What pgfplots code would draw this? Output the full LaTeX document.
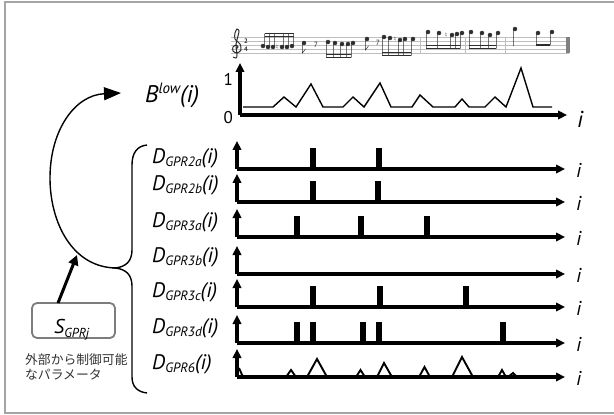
\documentclass[border=0pt]{standalone}
\usepackage{fontspec}
\setmainfont{PT Sans}
\newfontfamily\jpfont{Noto Sans CJK JP}
\newfontfamily\symfont{DejaVu Sans}
\usepackage{pgfplots}
\pgfplotsset{compat=1.18}
\usetikzlibrary{arrows.meta}

\definecolor{framegray}{RGB}{165,165,165}
\definecolor{boxgray}{RGB}{125,125,125}
\definecolor{staffgray}{RGB}{190,190,190}
\definecolor{notegray}{RGB}{45,45,45}

% one signal panel: x in picture pixels, y in pixels above the base line
\pgfplotsset{
  panel/.style={
    scale only axis, anchor=south west,
    width=328pt, height=28pt,
    xmin=237, xmax=565, ymin=0, ymax=28,
    axis lines*=left,
    axis line style={line width=3.1pt, black, -{Triangle[length=9pt,width=8.5pt]}},
    xtick=\empty, ytick=\empty,
    clip=false,
    xlabel={\fontsize{20}{20}\selectfont\itshape i},
    xlabel style={at={(axis description cs:1,0)}, anchor=base west,
      inner sep=0pt, xshift=11pt, yshift=-8pt},
  },
  pulses/.style={ycomb, black, line width=6.5pt},
}
\newcommand{\dlab}[1]{\fontsize{21}{21}\selectfont\itshape D\raisebox{-3pt}{\fontsize{13.5}{13.5}\selectfont #1}(i)}

\begin{document}
\begin{tikzpicture}[x=1pt,y=-1pt]
\path[use as bounding box] (0,0) rectangle (614,415);
\draw[framegray, line width=1.5pt] (614,2) -- (5,2) -- (5,413) -- (614,413);

% ---------- score (drawn in a hidden pixel axis) ----------
\begin{axis}[at={(0pt,0pt)}, anchor=north west, scale only axis,
  width=614pt, height=415pt, xmin=0, xmax=614, ymin=0, ymax=415,
  y dir=reverse, axis lines=none, clip=false, unbounded coords=jump]
\addplot[staffgray, line width=0.6pt] coordinates {
  (231,37)(569,37) (0,nan) (231,41)(569,41) (0,nan) (231,45)(569,45)
  (0,nan) (231,49)(569,49) (0,nan) (231,53)(569,53)};
\addplot[staffgray, line width=0.6pt] coordinates {
  (420,37)(420,53) (0,nan) (465,37)(465,53) (0,nan) (505,37)(505,53)};
\addplot[gray, line width=3.5pt] coordinates {(568,37)(568,53)};
% clef
\addplot[notegray, line width=1pt, smooth] coordinates {
  (236,49)(238,47)(236,45)(233,47)(233,51)(237,53)(241,50)(240,44)(235,39)
  (235,33)(237,29)(239,31)(238,36)(236,45)(237,55)(236,58)(233,57)};
% note heads
\addplot[only marks, mark=*, mark size=2pt, notegray] coordinates {
  (263,46)(268,47)(273,47)(282,47)(287,47)(292,46)
  (304,43)
  (328,42)(335,43)(342,44)(348,44)(353,43)
  (367,39)
  (384,37)(390,38)(400,40)(405,39)(413,39)
  (428,32)(439,33)(452,35)(457,34)(462,33)
  (471,32)(482,33)(490,35)(498,33)
  (515,29)
  (538,33)(552,32)};
% stems and flags
\addplot[notegray, line width=0.5pt] coordinates {
  (264.6,46)(264.6,33.5) (0,nan) (269.6,47)(269.6,33.5) (0,nan) (274.6,47)(274.6,33.5)
  (0,nan) (283.6,47)(283.6,33.5) (0,nan) (288.6,47)(288.6,33.5) (0,nan) (293.6,46)(293.6,33.5)
  (0,nan) (302.4,43)(302.4,53)(305.5,49)
  (0,nan) (326.4,42)(326.4,57.5) (0,nan) (333.4,43)(333.4,57.5) (0,nan) (340.4,44)(340.4,57.5)
  (0,nan) (346.4,44)(346.4,57.5) (0,nan) (351.4,43)(351.4,57.5)
  (0,nan) (365.4,39)(365.4,50)(368.5,46)
  (0,nan) (382.4,37)(382.4,55.5) (0,nan) (388.4,38)(388.4,55.5) (0,nan) (398.4,40)(398.4,55.5)
  (0,nan) (403.4,39)(403.4,55.5) (0,nan) (411.4,39)(411.4,55.5)
  (0,nan) (426.4,32)(426.4,48.5) (0,nan) (437.4,33)(437.4,48.5) (0,nan) (450.4,35)(450.4,48.5)
  (0,nan) (455.4,34)(455.4,48.5) (0,nan) (460.4,33)(460.4,48.5)
  (0,nan) (469.4,32)(469.4,48.5) (0,nan) (480.4,33)(480.4,48.5) (0,nan) (488.4,35)(488.4,48.5)
  (0,nan) (496.4,33)(496.4,48.5)
  (0,nan) (513.4,29)(513.4,46)
  (0,nan) (536.4,33)(536.4,45) (0,nan) (550.4,32)(550.4,45)};
% beams
\addplot[notegray, line width=1.8pt] coordinates {
  (264.6,33.5)(293.6,33.5) (0,nan) (264.6,36.5)(293.6,36.5)
  (0,nan) (326.4,57.5)(351.4,57.5) (0,nan) (326.4,54.5)(351.4,54.5)
  (0,nan) (382.4,55.5)(411.4,55.5) (0,nan) (382.4,52.5)(411.4,52.5)
  (0,nan) (426.4,48.5)(460.4,48.5) (0,nan) (426.4,45.5)(460.4,45.5)
  (0,nan) (469.4,48.5)(496.4,48.5) (0,nan) (469.4,45.5)(496.4,45.5)
  (0,nan) (536.4,45)(550.4,45)};
\node[notegray, font=\bfseries\fontsize{6.5}{6.5}\selectfont, inner sep=0] at (246,41) {2};
\node[notegray, font=\bfseries\fontsize{6.5}{6.5}\selectfont, inner sep=0] at (246,49) {4};
\node[notegray, font=\fontsize{7.5}{7.5}\selectfont, inner sep=0] at (316,45) {7};
\node[notegray, font=\fontsize{7.5}{7.5}\selectfont, inner sep=0] at (378,43) {7};
\node[notegray, font=\symfont\fontsize{6.5}{6.5}\selectfont, inner sep=0] at (277,47) {♮};
\node[notegray, font=\symfont\fontsize{6.5}{6.5}\selectfont, inner sep=0] at (395,39) {♮};
\node[notegray, font=\symfont\fontsize{6.5}{6.5}\selectfont, inner sep=0] at (446,35) {♮};
\end{axis}

% ---------- B^low(i) ----------
\begin{axis}[scale only axis, anchor=south west, at={(240pt,-115pt)},
  width=327pt, height=52pt, xmin=240, xmax=567, ymin=0, ymax=52,
  axis lines*=left,
  axis line style={line width=3.1pt, black, -{Triangle[length=9pt,width=8.5pt]}},
  xtick=\empty, ytick={0,39}, yticklabels={\textup{0},\textup{1}},
  tick style={draw=none},
  yticklabel style={anchor=east, inner sep=0pt, xshift=-7pt, yshift=-3pt,
    font=\fontsize{17}{17}\selectfont},
  clip=false,
  xlabel={\fontsize{23}{23}\selectfont\itshape i},
  xlabel style={at={(axis description cs:1,0)}, anchor=base west,
    inner sep=0pt, xshift=10pt, yshift=-12pt}]
\addplot[black, line width=1.4pt] coordinates {
  (243,8)(273,8)(284,18)(296,8)(311,31)(323,8)(343,8)(353,18)(364,8)(380,32)
  (391,8)(412,8)(420,20)(433,8)(455,8)(462,16)(469,8)(485,8)(495,18)(506,8)
  (521,47)(533,8)(552,8)};
\end{axis}

% ---------- D_GPR panels ----------
\begin{axis}[panel, at={(237pt,-169pt)}]
\addplot[pulses] coordinates {(313,21)(379,21)};
\end{axis}
\begin{axis}[panel, at={(237pt,-202pt)}]
\addplot[pulses] coordinates {(313,21)(378,21)};
\end{axis}
\begin{axis}[panel, at={(237pt,-237pt)}]
\addplot[pulses] coordinates {(297,21)(361,21)(427,21)};
\end{axis}
\begin{axis}[panel, at={(237pt,-274pt)}]
\end{axis}
\begin{axis}[panel, at={(237pt,-307pt)}]
\addplot[pulses] coordinates {(313,21)(380,21)(466,21)};
\end{axis}
\begin{axis}[panel, at={(237pt,-343pt)}]
\addplot[pulses] coordinates {(297,21)(313,21)(363,21)(379,21)(503,21)};
\end{axis}
\begin{axis}[panel, at={(237pt,-377pt)}]
\addplot[black, line width=1.9pt] coordinates {
  (239,9)(243,0)(286,0)(291,7)(296,0)(307,0)(317,18)(327,0)(356,0)(360.5,7)
  (365,0)(377,0)(384,14)(392,0)(419,0)(424.5,10)(430,0)(452,0)(462,20)(473,0)
  (498,0)(502,7)(506,0)(508,0)(513,4)(517,0)};
\end{axis}

% ---------- labels ----------
\node[anchor=base west, inner sep=0] at (145,102)
  {\fontsize{24}{24}\selectfont\itshape B\raisebox{9pt}{\fontsize{15}{15}\selectfont low}(i)};
\node[anchor=base west, inner sep=0] at (152,163) {\dlab{GPR2a}};
\node[anchor=base west, inner sep=0] at (152,190) {\dlab{GPR2b}};
\node[anchor=base west, inner sep=0] at (152,227) {\dlab{GPR3a}};
\node[anchor=base west, inner sep=0] at (152,262) {\dlab{GPR3b}};
\node[anchor=base west, inner sep=0] at (152,297) {\dlab{GPR3c}};
\node[anchor=base west, inner sep=0] at (152,333) {\dlab{GPR3d}};
\node[anchor=base west, inner sep=0] at (152,369) {\dlab{GPR6}};

% brace and feedback arrow
\draw[line width=1.4pt] (147,145) .. controls (137,146) and (132,153) .. (132,165)
  -- (132,250) .. controls (132,261) and (126,267) .. (115,268)
  .. controls (126,269) and (132,275) .. (132,286)
  -- (132,377) .. controls (132,387) and (138,392) .. (147,393);
\draw[line width=1.4pt, -{Triangle[length=17pt,width=13pt]}]
  (117,268) .. controls (72,268) and (50,222) .. (50,178)
  .. controls (50,130) and (75,95) .. (121,93);

% externally controllable parameter
\draw[boxgray, line width=1.8pt, rounded corners=5pt] (32,303) rectangle (115,338);
\draw[line width=3pt, -{Triangle[length=10pt,width=10pt]}] (58,303) -- (77,255);
\node[anchor=base west, inner sep=0] at (54,333)
  {\fontsize{20}{20}\selectfont\itshape S\raisebox{-4pt}{\fontsize{13}{13}\selectfont GPRj}};
\node[anchor=base west, inner sep=0, text=black!80] at (25,364)
  {\jpfont\fontsize{12.8}{12.8}\selectfont 外部から制御可能};
\node[anchor=base west, inner sep=0, text=black!80] at (25,379)
  {\jpfont\fontsize{12.8}{12.8}\selectfont なパラメータ};
\end{tikzpicture}
\end{document}
